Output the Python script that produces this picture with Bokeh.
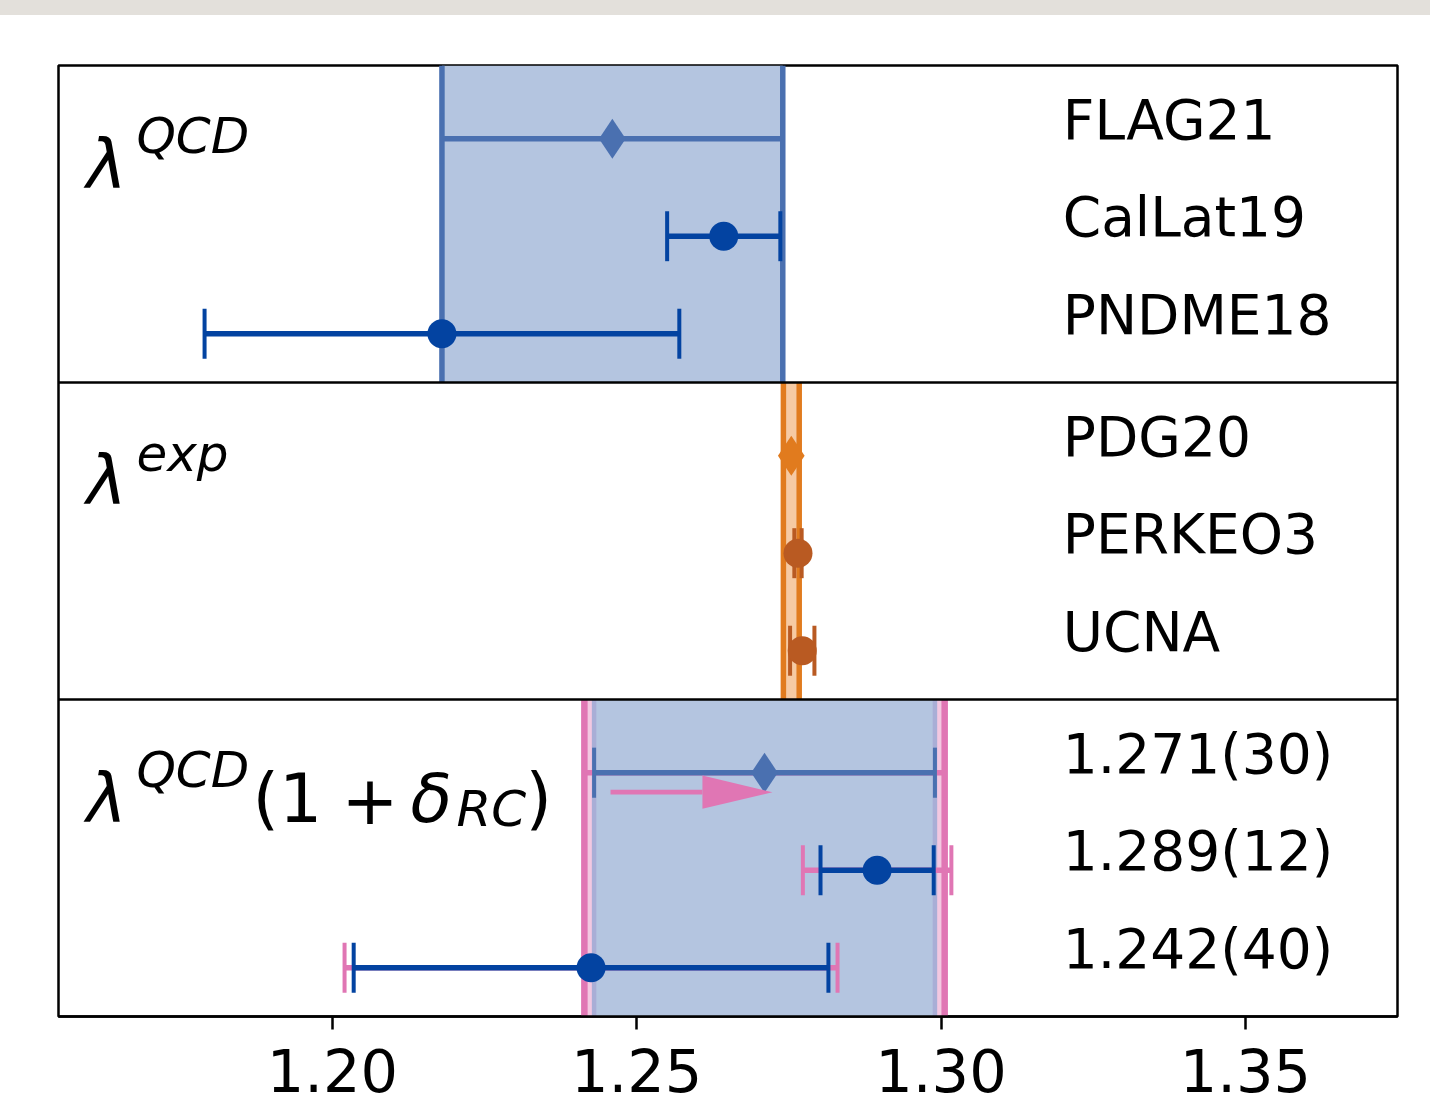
import numpy as np
from bokeh.plotting import figure
from bokeh.models import FixedTicker, Div
from bokeh.layouts import column
from bokeh.embed import file_html
from bokeh.resources import INLINE
from bokeh.core.properties import value

# ---------------- data ----------------
qcd_names = ["FLAG21", "CalLat19", "PNDME18"]
qcd_vals = [1.246, 1.2643, 1.218]
qcd_errs = [0.028, 0.0093, 0.039]

exp_names = ["PDG20", "PERKEO3", "UCNA"]
exp_vals = [1.2754, 1.2765, 1.2772]
exp_errs = [0.0013, 0.0006, 0.0020]

rc_names = ["1.271(30)", "1.289(12)", "1.242(40)"]
rc_vals = [1.2710, 1.2895, 1.2425]
rc_errs_qcd = [0.0280, 0.0093, 0.0390]
rc_errs_tot = [0.0296, 0.0122, 0.0405]

arrow_from = 1.2457
arrow_to = 1.2723

x_ticks = [1.20, 1.25, 1.30, 1.35]
x_tick_labels = ["1.20", "1.25", "1.30", "1.35"]

row_pos = [2, 1, 0]                 # rows top -> bottom inside a panel
panel_offsets = [6.5, 3.25, 0.0]    # top, middle, bottom panel
panel_lo, panel_hi = -0.5, 2.75

X_RANGE = (1.155, 1.375)
Y_RANGE = (-0.5, 9.25)

# ---------------- colours ----------------
BAND_BLUE = "#4a70b0"
BAND_FILL = "#b4c5e0"
DARK_BLUE = "#0343a1"
ORANGE = "#e17b1e"
PEACH = "#f6caa3"
BROWN = "#b95a22"
PINK = "#e076b4"
PINK_FILL = "#f3c8e1"
FADED_BLUE = "#a9aed6"

FONT = value("DejaVu Sans")

p = figure(width=1430, height=1081, x_range=X_RANGE, y_range=Y_RANGE,
           output_backend="svg", toolbar_location=None, y_axis_location=None,
           min_border_left=58, min_border_right=33, min_border_top=50,
           min_border_bottom=80)
p.grid.visible = False
p.outline_line_color = "black"
p.outline_line_width = 2.5
p.background_fill_color = "white"
p.border_fill_color = "white"

ax = p.xaxis[0]
ax.ticker = FixedTicker(ticks=x_ticks)
ax.major_label_overrides = {t: l for t, l in zip(x_ticks, x_tick_labels)}
ax.minor_tick_line_color = None
ax.major_tick_in = 0
ax.major_tick_out = 13
ax.major_tick_line_width = 2.5
ax.axis_line_width = 2.5
ax.major_label_text_font = "DejaVu Sans"
ax.major_label_text_font_size = "59px"
ax.major_label_text_color = "black"
ax.major_label_standoff = 19

CAP_PX = 50
BAR_W = 5.5
CAP_W = 4


def band(lo, hi, off, line_color, fill_color, lw=5.5, line_alpha=1.0):
    b, t = off + panel_lo, off + panel_hi
    p.quad(left=[lo], right=[hi], bottom=[b], top=[t],
           fill_color=fill_color, line_color=None)
    p.segment(x0=[lo, hi], y0=[b, b], x1=[lo, hi], y1=[t, t],
              line_color=line_color, line_width=lw, line_alpha=line_alpha)


def errbar(xs, errs, ys, color):
    xs = np.asarray(xs); errs = np.asarray(errs); ys = np.asarray(ys)
    p.segment(x0=xs - errs, y0=ys, x1=xs + errs, y1=ys,
              line_color=color, line_width=BAR_W)
    p.scatter(x=np.concatenate([xs - errs, xs + errs]),
              y=np.concatenate([ys, ys]), marker="dash", angle=np.pi / 2,
              size=CAP_PX, line_color=color, line_width=CAP_W)


# ---------- panel 1 : lambda^QCD ----------
off = panel_offsets[0]
ys1 = [off + r for r in row_pos]
band(qcd_vals[0] - qcd_errs[0], qcd_vals[0] + qcd_errs[0], off, BAND_BLUE, BAND_FILL)
errbar(qcd_vals[:1], qcd_errs[:1], ys1[:1], BAND_BLUE)
errbar(qcd_vals[1:], qcd_errs[1:], ys1[1:], DARK_BLUE)
p.scatter(x=qcd_vals[:1], y=ys1[:1], marker="diamond", size=40,
          fill_color=BAND_BLUE, line_color=None)
p.scatter(x=qcd_vals[1:], y=ys1[1:], marker="circle", size=29,
          fill_color=DARK_BLUE, line_color=None)

# ---------- panel 2 : lambda^exp ----------
off = panel_offsets[1]
ys2 = [off + r for r in row_pos]
band(exp_vals[0] - exp_errs[0], exp_vals[0] + exp_errs[0], off, ORANGE, PEACH)
errbar(exp_vals[:1], exp_errs[:1], ys2[:1], ORANGE)
p.scatter(x=exp_vals[:1], y=ys2[:1], marker="diamond", size=40,
          fill_color=ORANGE, line_color=None)
errbar(exp_vals[1:], exp_errs[1:], ys2[1:], BROWN)
p.scatter(x=exp_vals[1:], y=ys2[1:], marker="circle", size=29,
          fill_color=BROWN, line_color=None)

# ---------- panel 3 : lambda^QCD (1 + delta_RC) ----------
off = panel_offsets[2]
ys3 = [off + r for r in row_pos]
band(rc_vals[0] - rc_errs_tot[0], rc_vals[0] + rc_errs_tot[0], off, PINK, PINK_FILL, lw=6.5)
band(rc_vals[0] - rc_errs_qcd[0], rc_vals[0] + rc_errs_qcd[0], off, FADED_BLUE, BAND_FILL, lw=4.5)
errbar(rc_vals, rc_errs_tot, ys3, PINK)
errbar(rc_vals[:1], rc_errs_qcd[:1], ys3[:1], BAND_BLUE)
errbar(rc_vals[1:], rc_errs_qcd[1:], ys3[1:], DARK_BLUE)
p.scatter(x=rc_vals[:1], y=ys3[:1], marker="diamond", size=40,
          fill_color=BAND_BLUE, line_color=None)
p.scatter(x=rc_vals[1:], y=ys3[1:], marker="circle", size=29,
          fill_color=DARK_BLUE, line_color=None)

# arrow (shift from FLAG21 to corrected value)
ay = ys3[0] - 0.2
head_len = 70 / 1339 * (X_RANGE[1] - X_RANGE[0])
head_half = 16.7 / 951 * (Y_RANGE[1] - Y_RANGE[0])
p.segment(x0=[arrow_from], y0=[ay], x1=[arrow_to - head_len], y1=[ay],
          line_color=PINK, line_width=4.7)
p.patch(x=[arrow_to - head_len, arrow_to, arrow_to - head_len],
        y=[ay + head_half, ay, ay - head_half],
        fill_color=PINK, line_color=None)

# panel separators
p.hspan(y=[panel_offsets[1] + panel_lo, panel_offsets[0] + panel_lo],
        line_color="black", line_width=2.5)

# ---------- right-hand labels ----------
label_x = 1.3200
all_names = qcd_names + exp_names + rc_names
all_ys = [y + 0.195 for y in ys1 + ys2 + ys3]
p.text(x=[label_x] * len(all_names), y=all_ys, text=all_names,
       text_font=FONT, text_font_size="55px", text_color="black",
       text_align="left", text_baseline="alphabetic")

# ---------- math labels (positions in page pixels) ----------
FX0, FX1, FY0, FY1 = 58, 1397, 65, 1016
TEXT_SHIFT = 21  # empirical baseline correction (px)


def px_x(px):
    return X_RANGE[0] + (px - FX0) / (FX1 - FX0) * (X_RANGE[1] - X_RANGE[0])


def px_y(py):
    return Y_RANGE[1] - (py - TEXT_SHIFT - FY0) / (FY1 - FY0) * (Y_RANGE[1] - Y_RANGE[0])


def mtext(px, py, s, size, italic):
    p.text(x=[px_x(px)], y=[px_y(py)], text=[s], text_font=FONT,
           text_font_size=f"{size}px", text_color="black",
           text_font_style="italic" if italic else "normal",
           text_align="left", text_baseline="alphabetic")


MAIN, SUP = 68, 50
# panel 1
mtext(86, 185, "λ", MAIN, True)
mtext(136, 156, "QCD", SUP, True)
# panel 2
mtext(86, 501, "λ", MAIN, True)
mtext(136, 474, "exp", SUP, True)
# panel 3
mtext(86, 819, "λ", MAIN, True)
mtext(136, 790, "QCD", SUP, True)
mtext(252, 819, "(1", MAIN, False)
mtext(341, 819, "+", MAIN, False)
mtext(410, 819, "δ", MAIN, True)
mtext(456, 829, "RC", SUP, True)
mtext(525, 819, ")", MAIN, False)

top_band = Div(text="", width=1430, height=15, margin=0,
               styles={"background-color": "#e3e0db"})
layout = column(top_band, p, spacing=0)

open("out.html", "w").write(file_html(layout, INLINE))
